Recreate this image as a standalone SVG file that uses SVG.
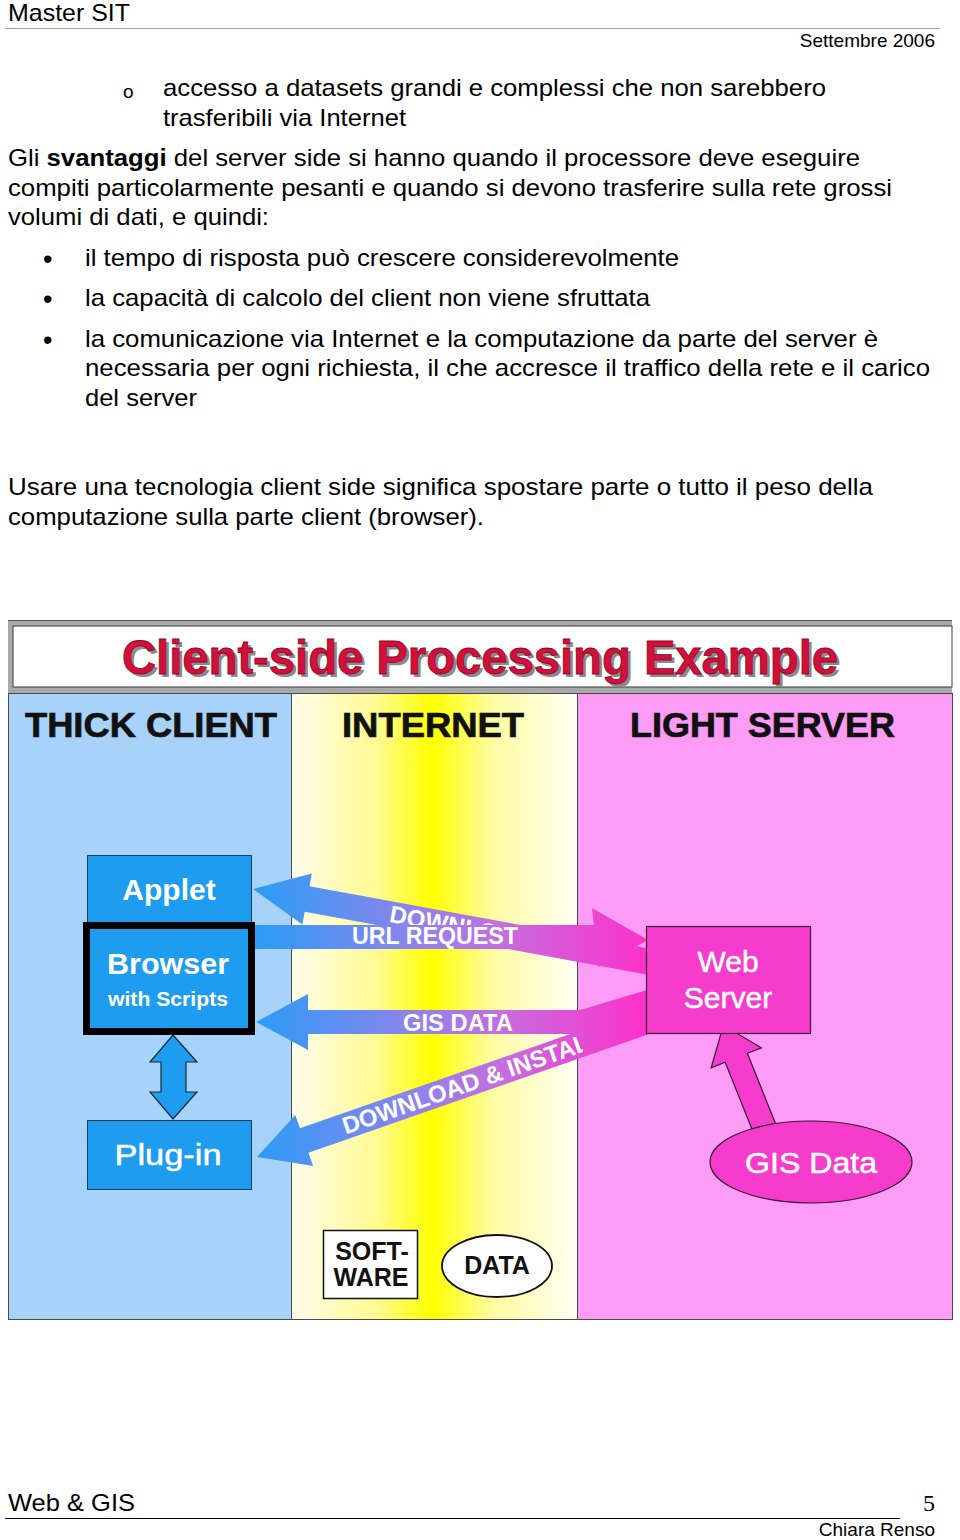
<svg xmlns="http://www.w3.org/2000/svg" width="960" height="1540" viewBox="0 0 960 1540">
<defs>
<style>
.body{font-family:"Liberation Sans",Arial,sans-serif;font-size:24px;fill:#000}
.small{font-family:"Liberation Sans",Arial,sans-serif;font-size:19px;fill:#000}
.bul{font-family:"Liberation Sans",Arial,sans-serif;font-size:27px;fill:#000}
.hdr{font-family:"Liberation Sans",Arial,sans-serif;font-size:35px;font-weight:bold;fill:#111;stroke:#111;stroke-width:0.7}
.nodeT{font-family:"Liberation Sans",Arial,sans-serif;font-size:30px;fill:#fff;stroke:#fff;stroke-width:0.5;text-anchor:middle}
.nodeB{font-family:"Liberation Sans",Arial,sans-serif;font-weight:bold;fill:#fff;text-anchor:middle}
.lbl{font-family:"Liberation Sans",Arial,sans-serif;font-weight:bold;font-size:23px;fill:#fff}
.blk{font-family:"Liberation Sans",Arial,sans-serif;font-weight:bold;font-size:25px;fill:#111;text-anchor:middle}
.blueBox{fill:#1e9cf0;stroke:#1d3b55;stroke-width:1}
.pinkShape{fill:#f53ccc;stroke:#3a1030;stroke-width:1.2}
</style>
<linearGradient id="arrowGrad" gradientUnits="userSpaceOnUse" x1="253" y1="0" x2="650" y2="0">
<stop offset="0" stop-color="#2a9cf6"/>
<stop offset="0.4" stop-color="#8c84ec"/>
<stop offset="0.62" stop-color="#c46ee0"/>
<stop offset="1" stop-color="#ff2fc8"/>
</linearGradient>
<linearGradient id="yellowGrad" x1="0" y1="0" x2="1" y2="0">
<stop offset="0" stop-color="#fffdec"/>
<stop offset="0.3" stop-color="#fffa90"/>
<stop offset="0.49" stop-color="#ffff00"/>
<stop offset="0.7" stop-color="#fffca0"/>
<stop offset="1" stop-color="#fffff4"/>
</linearGradient>
<clipPath id="installClip"><rect x="250" y="1000" width="333" height="200"/></clipPath>
</defs>

<!-- page header -->
<g id="page-header">
<text class="body" x="8" y="21" textLength="122" lengthAdjust="spacingAndGlyphs">Master SIT</text>
<line x1="5" y1="28.5" x2="940" y2="28.5" stroke="#a0a0a0" stroke-width="1"/>
<text class="small" x="935" y="47" text-anchor="end">Settembre 2006</text>
</g>

<!-- body text -->
<g id="body-text">
<text class="body" x="123" y="98" style="font-size:19px">o</text>
<text class="body" x="163" y="96" textLength="663" lengthAdjust="spacingAndGlyphs">accesso a datasets grandi e complessi che non sarebbero</text>
<text class="body" x="163" y="126" textLength="243" lengthAdjust="spacingAndGlyphs">trasferibili via Internet</text>
<text class="body" x="8" y="166" textLength="852" lengthAdjust="spacingAndGlyphs">Gli <tspan font-weight="bold">svantaggi</tspan> del server side si hanno quando il processore deve eseguire</text>
<text class="body" x="8" y="196" textLength="884" lengthAdjust="spacingAndGlyphs">compiti particolarmente pesanti e quando si devono trasferire sulla rete grossi</text>
<text class="body" x="8" y="225" textLength="261" lengthAdjust="spacingAndGlyphs">volumi di dati, e quindi:</text>
<text class="bul" x="43" y="268">•</text>
<text class="body" x="85" y="266" textLength="594" lengthAdjust="spacingAndGlyphs">il tempo di risposta può crescere considerevolmente</text>
<text class="bul" x="43" y="308">•</text>
<text class="body" x="85" y="306" textLength="565" lengthAdjust="spacingAndGlyphs">la capacità di calcolo del client non viene sfruttata</text>
<text class="bul" x="43" y="349">•</text>
<text class="body" x="85" y="347" textLength="793" lengthAdjust="spacingAndGlyphs">la comunicazione via Internet e la computazione da parte del server è</text>
<text class="body" x="85" y="376" textLength="845" lengthAdjust="spacingAndGlyphs">necessaria per ogni richiesta, il che accresce il traffico della rete e il carico</text>
<text class="body" x="85" y="406" textLength="112" lengthAdjust="spacingAndGlyphs">del server</text>
<text class="body" x="8" y="495" textLength="865" lengthAdjust="spacingAndGlyphs">Usare una tecnologia client side significa  spostare parte o tutto il peso della</text>
<text class="body" x="8" y="525" textLength="476" lengthAdjust="spacingAndGlyphs">computazione sulla parte client (browser).</text>
</g>

<!-- diagram background -->
<g id="diagram-frame">
<rect x="8" y="620" width="944" height="74" fill="#a9a9a9"/>
<rect x="13" y="626" width="939" height="61" fill="#ffffff" stroke="#3a3a3a" stroke-width="1"/>
<line x1="8" y1="620.5" x2="952" y2="620.5" stroke="#555" stroke-width="1"/>
<text x="125" y="677" textLength="716" lengthAdjust="spacingAndGlyphs" style="font-family:'Liberation Sans',Arial,sans-serif;font-weight:bold;font-size:48px;fill:#8a8a8a">Client-side Processing Example</text>
<text x="122" y="674" textLength="716" lengthAdjust="spacingAndGlyphs" style="font-family:'Liberation Sans',Arial,sans-serif;font-weight:bold;font-size:48px;fill:#d3103c;stroke:#8a0a28;stroke-width:0.8">Client-side Processing Example</text>
</g>

<g id="panels">
<rect x="8.5" y="693.5" width="283" height="626" fill="#a7d3fa" stroke="#4a4a4a" stroke-width="1"/>
<rect x="291.5" y="693.5" width="286" height="626" fill="url(#yellowGrad)" stroke="#4a4a4a" stroke-width="1"/>
<rect x="577.5" y="693.5" width="375" height="626" fill="#fd9cf6" stroke="#4a4a4a" stroke-width="1"/>
<text class="hdr" x="25" y="737" textLength="252" lengthAdjust="spacingAndGlyphs">THICK CLIENT</text>
<text class="hdr" x="342" y="737" textLength="182" lengthAdjust="spacingAndGlyphs">INTERNET</text>
<text class="hdr" x="630" y="737" textLength="265" lengthAdjust="spacingAndGlyphs">LIGHT SERVER</text>
</g>

<!-- connectors -->
<g id="connectors">
<g id="arrow-download">
<polygon points="253,889 302.4,924.5 304.7,911.7 647.6,974.8 652.4,949.2 309.5,886.2 311.8,873.4" fill="url(#arrowGrad)"/>
<text class="lbl" transform="translate(390,914) rotate(10.4)" x="0" y="8" style="font-size:24px">DOWNLOAD</text>
</g>
<g id="arrow-url-request">
<polygon points="253,925 594,925 592,908 648,940 598,967 596,949 253,949" fill="url(#arrowGrad)"/>
<text class="lbl" x="352" y="944" textLength="166" lengthAdjust="spacingAndGlyphs">URL REQUEST</text>
</g>
<g id="arrow-gis-data">
<polygon points="256,1022 308,994 308,1010 580,1010 647,990 647,1034 308,1034 308,1050" fill="url(#arrowGrad)"/>
<text class="lbl" x="403" y="1031" textLength="110" lengthAdjust="spacingAndGlyphs">GIS DATA</text>
</g>
<g id="arrow-download-install">
<polygon points="257,1157 313.1,1166 308.5,1152.8 654.3,1032.3 645.7,1007.7 299.9,1128.3 295.3,1115.1" fill="url(#arrowGrad)"/>
<g clip-path="url(#installClip)">
<text class="lbl" transform="translate(343,1127) rotate(-19.2)" x="0" y="8" style="font-size:24px">DOWNLOAD &amp; INSTALL</text>
</g>
</g>
<g id="arrow-browser-plugin">
<polygon points="173,1035 197,1062 186,1062 186,1092 197,1092 173,1119 150,1092 161,1092 161,1062 150,1062" fill="#1e9cf0" stroke="#1a2a3a" stroke-width="1.2"/>
</g>
<g id="arrow-gisdata-webserver">
<polygon points="754.9,1136.5 725.2,1062.3 711.2,1067.8 723.3,1025.3 761.4,1047.8 747.4,1053.3 777.1,1127.5" class="pinkShape"/>
</g>
</g>

<!-- nodes -->
<g id="node-applet">
<rect x="87.5" y="855.5" width="164" height="67" class="blueBox"/>
<text class="nodeB" x="169" y="900" style="font-size:30px">Applet</text>
</g>
<g id="node-browser">
<rect x="86.5" y="925.5" width="165" height="106" fill="#1e9cf0" stroke="#000" stroke-width="7"/>
<text class="nodeB" x="168" y="974" style="font-size:30px" textLength="122" lengthAdjust="spacingAndGlyphs">Browser</text>
<text class="nodeB" x="168" y="1006" style="font-size:20px" textLength="120" lengthAdjust="spacingAndGlyphs">with Scripts</text>
</g>
<g id="node-plugin">
<rect x="87.5" y="1120.5" width="164" height="69" class="blueBox"/>
<text class="nodeT" x="168" y="1165" textLength="107" lengthAdjust="spacingAndGlyphs">Plug-in</text>
</g>
<g id="node-webserver">
<rect x="646.5" y="926.5" width="164" height="107" class="pinkShape"/>
<text class="nodeT" x="728" y="972">Web</text>
<text class="nodeT" x="728" y="1008">Server</text>
</g>
<g id="node-gisdata">
<ellipse cx="811" cy="1162" rx="101" ry="41" class="pinkShape"/>
<text class="nodeT" x="811" y="1173" textLength="132" lengthAdjust="spacingAndGlyphs">GIS Data</text>
</g>
<g id="legend-software">
<rect x="323.5" y="1230.5" width="94" height="68" fill="#fff" stroke="#111" stroke-width="1.5"/>
<text class="blk" x="372" y="1260">SOFT-</text>
<text class="blk" x="371" y="1286">WARE</text>
</g>
<g id="legend-data">
<ellipse cx="497" cy="1266" rx="55" ry="31" fill="#fff" stroke="#111" stroke-width="1.8"/>
<text class="blk" x="497" y="1274">DATA</text>
</g>

<!-- page footer -->
<g id="page-footer">
<text class="body" x="8" y="1511" textLength="127" lengthAdjust="spacingAndGlyphs">Web &amp; GIS</text>
<text x="935" y="1511" text-anchor="end" style="font-family:'Liberation Serif','Times New Roman',serif;font-size:24px;fill:#000">5</text>
<line x1="5" y1="1518.5" x2="900" y2="1518.5" stroke="#000" stroke-width="1"/>
<text class="small" x="935" y="1536" text-anchor="end">Chiara Renso</text>
</g>
</svg>
